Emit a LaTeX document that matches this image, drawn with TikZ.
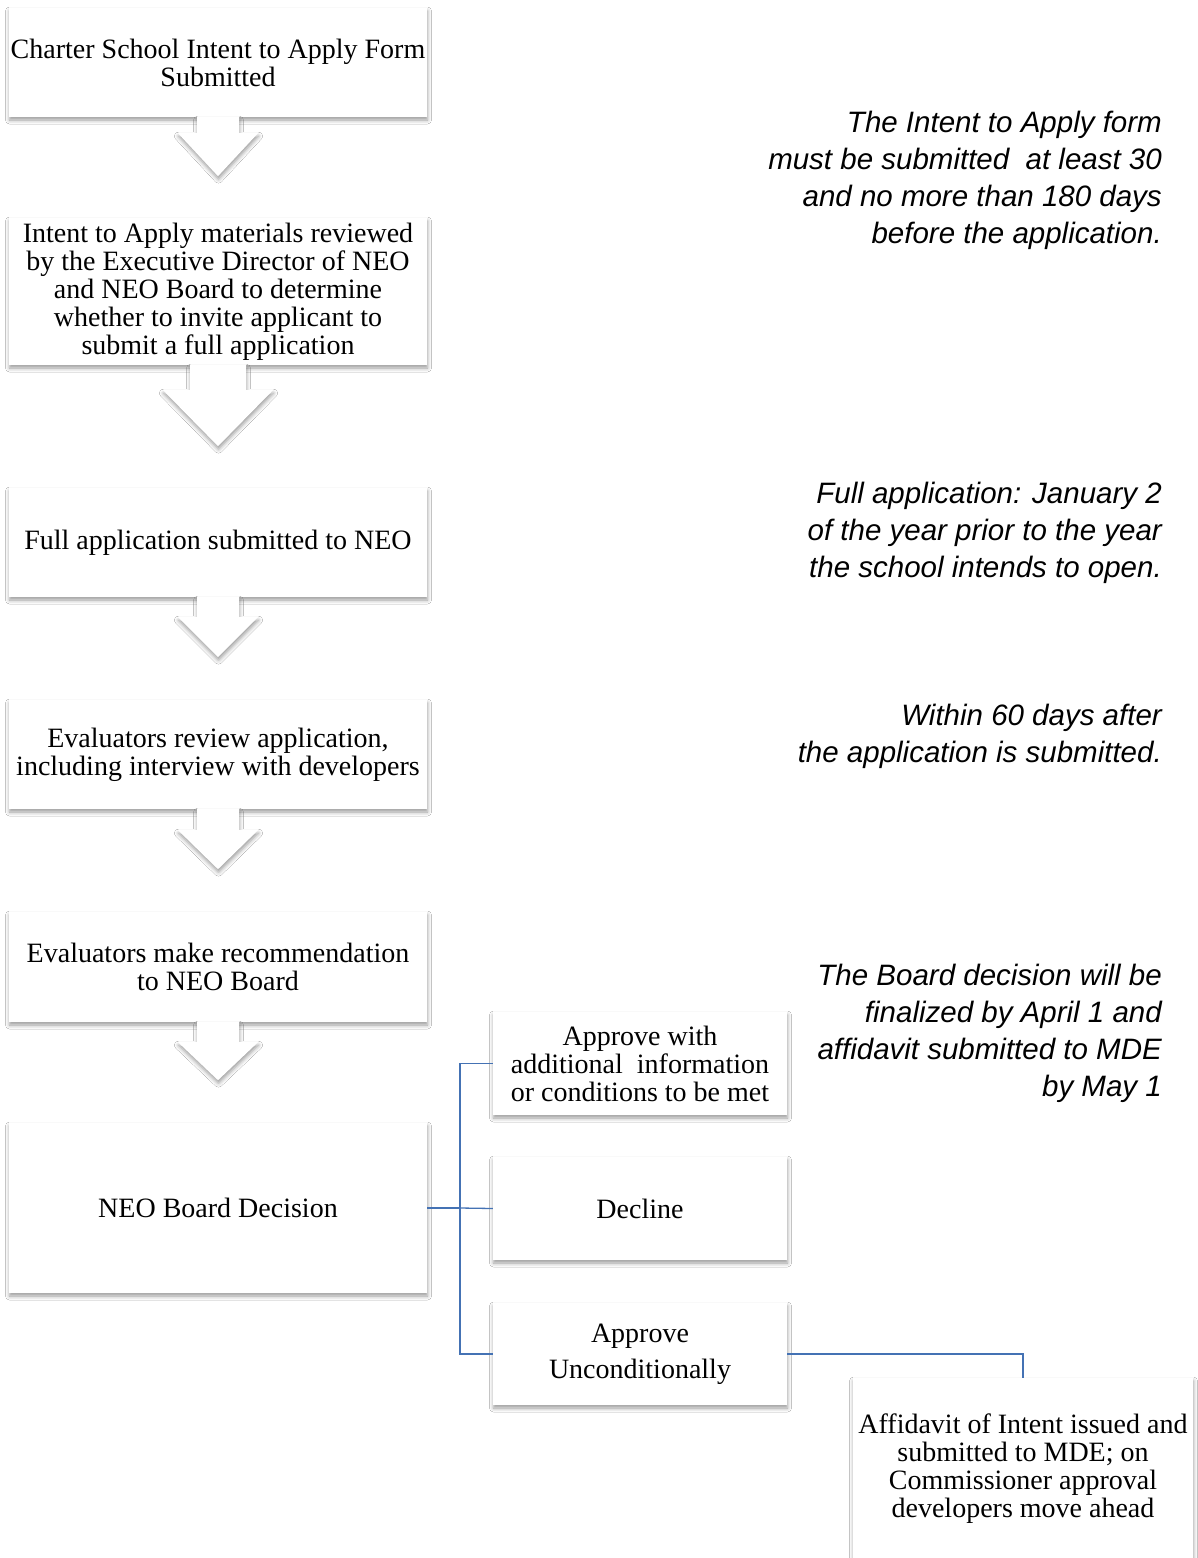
\documentclass[tikz,border=0pt]{standalone}
\usepackage{fontspec}
\setmainfont{Liberation Serif}
\newfontfamily\notefont{Liberation Sans}
\usepackage{xcolor}
\usetikzlibrary{calc}
\usetikzlibrary{shadows.blur}
\definecolor{linkblue}{RGB}{68,114,180}

\tikzset{
  softshadow/.style={blur shadow={shadow xshift=0.5pt, shadow yshift=-3pt, shadow blur radius=4pt, shadow opacity=40}},
  box/.style={rectangle, fill=white, softshadow, inner sep=0pt, align=center, font=\fontsize{28}{28}\selectfont},
  chevron/.style={fill=white, softshadow},
  link/.style={draw=linkblue, line width=1.3pt},
  note/.style={anchor=east, align=right, inner sep=0pt, font=\notefont\itshape\fontsize{29.5}{37}\selectfont}
}

\begin{document}
\begin{tikzpicture}[x=1pt,y=-1pt]
  \useasboundingbox[fill=white] (0,0) rectangle (1198,1558);
  % main column
  \node[box, minimum width=418pt, minimum height=109pt] (form) at (218,62.5) {Charter School Intent to Apply Form\\Submitted};
  \node[box, minimum width=418pt, minimum height=147pt] (review) at (218,291.5) {Intent to Apply materials reviewed\\by the Executive Director of NEO\\and NEO Board to determine\\whether to invite applicant to\\submit a full application};
  \node[box, minimum width=418pt, minimum height=109pt] (full) at (218,542.5) {Full application submitted to NEO};
  \node[box, minimum width=418pt, minimum height=109pt] (eval) at (218,754.5) {Evaluators review application,\\including interview with developers};
  \node[box, minimum width=418pt, minimum height=110pt] (recom) at (218,967) {Evaluators make recommendation\\to NEO Board};
  \node[box, minimum width=418pt, minimum height=170pt] (decis) at (218,1208) {NEO Board Decision};
  % outcomes
  \node[box, minimum width=294pt, minimum height=103pt] (cond) at (640,1063.5) {Approve with\\additional~ information\\or conditions to be met};
  \node[box, minimum width=294pt, minimum height=103pt] (decl) at (640,1208.5) {Decline};
  \node[box, minimum width=294pt, minimum height=102pt] (uncond) at (640,1354) {Approve\\[8pt]Unconditionally};
  \node[box, minimum width=340pt, minimum height=182pt] (affid) at (1023,1469) {Affidavit of Intent issued and\\submitted to MDE; on\\Commissioner approval\\developers move ahead};
  % down arrows
  \fill[chevron] ($(form.south)+(-21,0)$) -- ++(0,16) -- ++(-19,0) -- ($(form.south)+(0,59)$) -- ($(form.south)+(40,16)$) -- ++(-19,0) -- ($(form.south)+(21,0)$) -- cycle;
  \fill[chevron] ($(review.south)+(-28,0)$) -- ++(0,25) -- ++(-27,0) -- ($(review.south)+(0,81)$) -- ($(review.south)+(55,25)$) -- ++(-27,0) -- ($(review.south)+(28,0)$) -- cycle;
  \fill[chevron] ($(full.south)+(-21,0)$) -- ++(0,20) -- ++(-19,0) -- ($(full.south)+(0,60)$) -- ($(full.south)+(40,20)$) -- ++(-19,0) -- ($(full.south)+(21,0)$) -- cycle;
  \fill[chevron] ($(eval.south)+(-21,0)$) -- ++(0,21) -- ++(-19,0) -- ($(eval.south)+(0,60)$) -- ($(eval.south)+(40,21)$) -- ++(-19,0) -- ($(eval.south)+(21,0)$) -- cycle;
  \fill[chevron] ($(recom.south)+(-21,0)$) -- ++(0,20) -- ++(-19,0) -- ($(recom.south)+(0,58)$) -- ($(recom.south)+(40,20)$) -- ++(-19,0) -- ($(recom.south)+(21,0)$) -- cycle;
  % connectors
  \coordinate (fork) at (460,1208);
  \draw[link] (decis.east) -- (fork);
  \draw[link] (fork) |- (cond.west);
  \draw[link] (fork) -- (decl.west);
  \draw[link] (fork) |- (uncond.west);
  \draw[link] (uncond.east) -| (affid.north);
  % timing notes
  \node[note] (note1) at (1162,180.5) {The Intent to Apply form\\must be submitted~ at least 30\\and no more than 180 days\\before the application.};
  \node[note] (note2) at (1162,533) {Full application: January 2\\of the year prior to the year\\the school intends to open.};
  \node[note] (note3) at (1162,736.5) {Within 60 days after\\the application is submitted.};
  \node[note] (note4) at (1162,1033.5) {The Board decision will be\\finalized by April 1 and\\affidavit submitted to MDE\\by May 1};
\end{tikzpicture}
\end{document}
